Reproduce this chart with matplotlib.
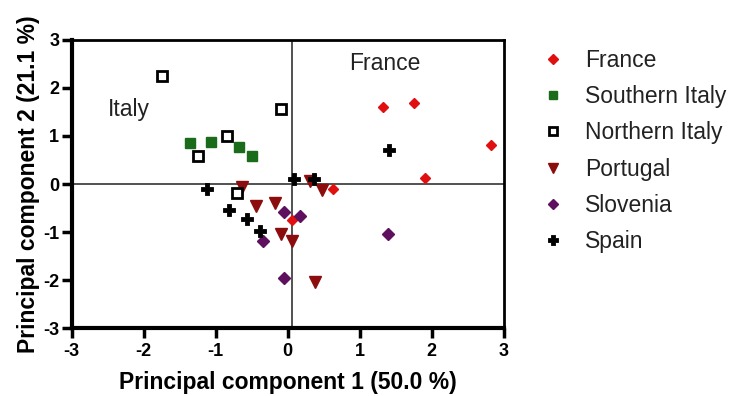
import matplotlib
matplotlib.use("Agg")
import matplotlib.pyplot as plt
from matplotlib.path import Path

plt.rcParams['font.family'] = ['Liberation Sans', 'DejaVu Sans']

france_x = [1.32, 1.75, 2.82, 1.91, 0.63, 0.06]
france_y = [1.60, 1.68, 0.82, 0.13, -0.11, -0.74]

s_italy_x = [-1.36, -1.07, -0.67, -0.49]
s_italy_y = [0.86, 0.88, 0.78, 0.58]

n_italy_x = [-1.75, -0.09, -0.84, -1.24, -0.70]
n_italy_y = [2.26, 1.56, 0.99, 0.58, -0.18]

portugal_x = [0.47, 0.31, -0.64, -0.44, -0.18, -0.09, 0.06, 0.38]
portugal_y = [-0.12, 0.07, -0.07, -0.45, -0.40, -1.04, -1.18, -2.05]

slovenia_x = [-0.05, 0.17, -0.34, -0.05, 1.40]
slovenia_y = [-0.59, -0.66, -1.18, -1.95, -1.05]

spain_x = [1.41, 0.09, 0.36, -1.12, -0.81, -0.57, -0.38]
spain_y = [0.70, 0.11, 0.11, -0.11, -0.54, -0.73, -0.97]

series_names = ["France", "Southern Italy", "Northern Italy", "Portugal", "Slovenia", "Spain"]
ticks = [-3, -2, -1, 0, 1, 2, 3]
ref_x = 0.06
ref_y = 0.0

# fat four-armed cross marker
a, b = 1.0, 0.36
cross = Path([(-b, b), (-b, a), (b, a), (b, b), (a, b), (a, -b), (b, -b), (b, -a),
              (-b, -a), (-b, -b), (-a, -b), (-a, b), (-b, b)], closed=True)

fig = plt.figure(figsize=(7.3, 3.96), dpi=100)
ax = fig.add_axes([0.0982, 0.1717, 0.5918, 0.7273])

h1, = ax.plot(france_x, france_y, 'D', color='#e01010', ms=5.5, ls='none')
h2, = ax.plot(s_italy_x, s_italy_y, 's', color='#1a6b1a', ms=6.5, ls='none')
h3, = ax.plot(n_italy_x, n_italy_y, 's', mfc='white', mec='black', mew=2, ms=6.5, ls='none', zorder=4)
h4, = ax.plot(portugal_x, portugal_y, 'v', color='#8b0d0d', ms=8, ls='none', zorder=2)
h5, = ax.plot(slovenia_x, slovenia_y, 'D', color='#5e0f5e', ms=6, ls='none')
h6, = ax.plot(spain_x, spain_y, marker=cross, color='black', ms=8.5, mew=0.6, ls='none', zorder=3)

ax.axvline(ref_x, color='#333333', lw=1.2, zorder=0)
ax.axhline(ref_y, color='#333333', lw=1.2, zorder=0)

ax.set_xlim(-3, 3)
ax.set_ylim(-3, 3)
ax.set_xticks(ticks)
ax.set_yticks(ticks)
ax.set_xticklabels([str(t) for t in ticks], fontsize=13, fontweight='bold')
ax.set_yticklabels([str(t) for t in ticks], fontsize=13, fontweight='bold')
ax.tick_params(direction='out', length=7, width=2.5, pad=2)
ax.tick_params(axis='x', pad=4)
for side in ['left', 'bottom']:
    ax.spines[side].set_linewidth(3)
for side in ['top', 'right']:
    ax.spines[side].set_linewidth(2)

ax.set_xlabel("Principal component 1 (50.0 %)", fontsize=16.5, fontweight='bold', labelpad=8)
ax.set_ylabel("Principal component 2 (21.1 %)", fontsize=16.5, fontweight='bold', labelpad=2)

ax.text(1.35, 2.51, "France", fontsize=16.5, ha='center', va='center', color='#222222')
ax.text(-2.20, 1.55, "Italy", fontsize=16.5, ha='center', va='center', color='#222222')

leg = fig.legend([h1, h2, h3, h4, h5, h6], series_names, loc='upper left',
                 bbox_to_anchor=(0.729, 0.900), frameon=False, fontsize=16.5,
                 labelspacing=0.58, handletextpad=0.9, handlelength=1.0,
                 borderaxespad=0, markerscale=0.85)
for t in leg.get_texts():
    t.set_color('#222222')

fig.savefig("out.png", dpi=100)
